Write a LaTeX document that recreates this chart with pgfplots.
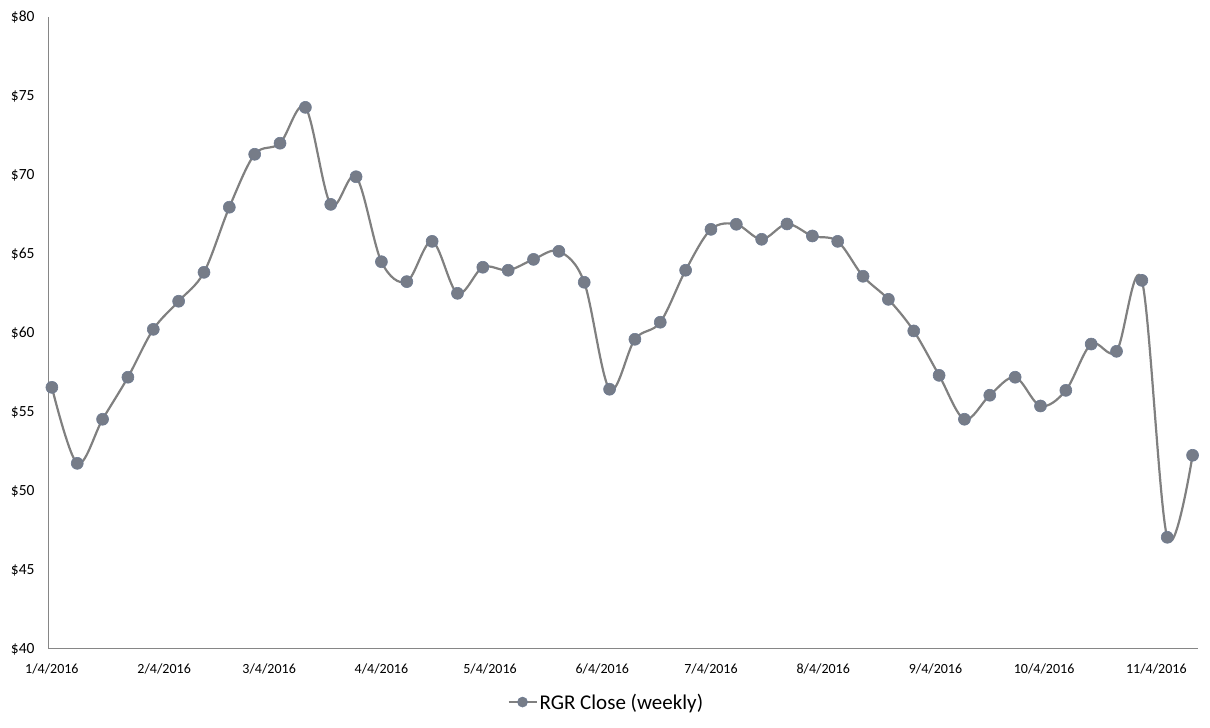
\documentclass[border=0pt]{standalone}
\usepackage{fontspec}
\setmainfont{Carlito}
\usepackage{pgfplots}
\usepackage{pgfplotstable}
\pgfplotsset{compat=1.18}
\definecolor{linegray}{RGB}{128,128,128}
\definecolor{markfill}{RGB}{118,124,136}
\definecolor{markdraw}{RGB}{110,123,146}
\definecolor{axgray}{RGB}{134,134,134}

\pgfplotstableread{
day close
0 56.56
7 51.75
14 54.54
21 57.20
28 60.23
35 62.01
42 63.84
49 67.96
56 71.31
63 72.01
70 74.28
77 68.14
84 69.89
91 64.51
98 63.25
105 65.80
112 62.51
119 64.16
126 63.97
133 64.66
140 65.17
147 63.21
154 56.44
161 59.60
168 60.68
175 63.97
182 66.56
189 66.88
196 65.93
203 66.90
210 66.14
217 65.80
224 63.59
231 62.13
238 60.13
245 57.32
252 54.54
259 56.06
266 57.20
273 55.38
280 56.37
287 59.30
294 58.84
301 63.33
308 47.07
315 52.26
}\rgr

\begin{document}
\begin{tikzpicture}
\begin{axis}[name=ax, scale only axis, width=1149pt, height=632pt,
  xmin=-0.8, xmax=316.5, ymin=40, ymax=80,
  axis lines=left, axis line style={axgray, line width=1pt, -},
  ytick={40,45,...,80},
  yticklabels={\$40,\$45,\$50,\$55,\$60,\$65,\$70,\$75,\$80},
  xtick={0,31,60,91,121,152,182,213,244,274,305},
  xticklabels={1/4/2016,2/4/2016,3/4/2016,4/4/2016,5/4/2016,6/4/2016,7/4/2016,8/4/2016,9/4/2016,10/4/2016,11/4/2016},
  major tick length=0pt,
  yticklabel style={font=\fontsize{15.5}{18}\selectfont, xshift=-11pt},
  xticklabel style={font=\fontsize{14}{16}\selectfont, yshift=-11pt},
  clip=false,
  legend style={at={(axis description cs:0.485,-0.084)}, anchor=center, draw=none, fill=none,
    font=\fontsize{21}{24}\selectfont, inner sep=0pt},
  legend image code/.code={\draw[mark repeat=2,mark phase=2,#1,mark size=5pt] plot coordinates {(0pt,0pt) (14pt,0pt) (28pt,0pt)};},
]
\addplot[linegray, line width=2.2pt, smooth, tension=0.55, mark=*, mark size=6pt,
  mark options={fill=markfill, draw=markdraw, line width=0.6pt, solid}] table[x=day, y=close] {\rgr};
\addlegendentry{RGR Close (weekly)}
\end{axis}
\path ([xshift=-49pt,yshift=-79pt]ax.south west) rectangle ([xshift=12pt,yshift=17pt]ax.north east);
\end{tikzpicture}
\end{document}
